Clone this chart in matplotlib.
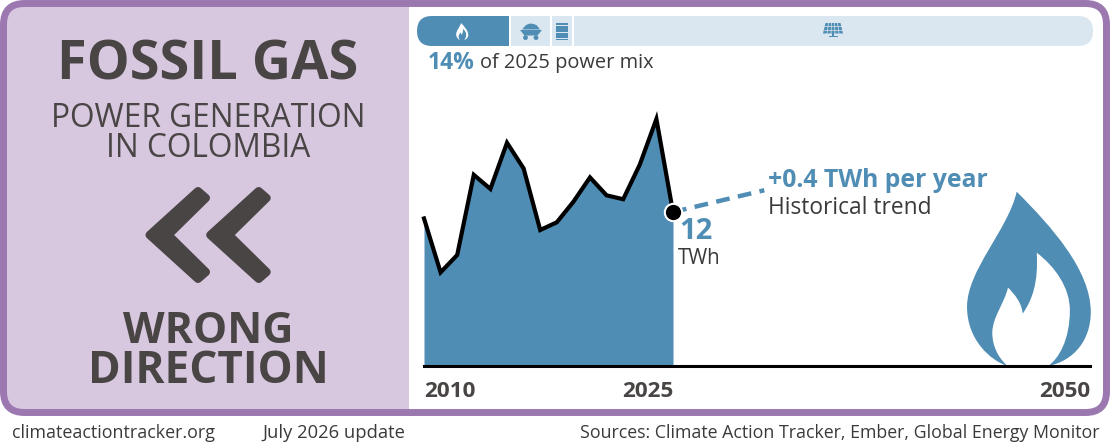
import matplotlib
matplotlib.use("Agg")
import matplotlib.pyplot as plt
from matplotlib.patches import FancyBboxPatch, Rectangle, PathPatch, Circle, Polygon
from matplotlib.path import Path

# ---- data ----
years = [2010, 2011, 2012, 2013, 2014, 2015, 2016, 2017, 2018, 2019, 2020, 2021, 2022, 2023, 2024, 2025]
gas_twh = [11.5, 7.3, 8.65, 14.9, 13.8, 17.4, 15.4, 10.6, 11.2, 12.8, 14.7, 13.3, 13.0, 15.7, 19.25, 12.0]
trend_years = [2025, 2030.5]
trend_twh = [12.0, 13.7]
tick_years = [2010, 2025, 2050]

W, H = 1110, 444
BLUE = "#4f8db5"
PALE = "#dbe7f0"
PURPLE = "#9b78b0"
LILAC = "#d7c8e0"
DARK = "#4a4545"
TXT = "#3a3a3a"
FONT = "Open Sans"

plt.rcParams["font.family"] = [FONT, "DejaVu Sans"]

fig = plt.figure(figsize=(W / 100, H / 100), dpi=100)

# full canvas in pixels, y going down
bg = fig.add_axes([0, 0, 1, 1])
bg.set_xlim(0, W)
bg.set_ylim(H, 0)
bg.axis("off")

# frame
frame = FancyBboxPatch((3.5, 3.5), W - 7, 409, boxstyle="round,pad=0,rounding_size=21",
                       fc="white", ec="none", zorder=1)
bg.add_patch(frame)
left_panel = Rectangle((0, 0), 409, 420, fc=LILAC, ec="none", zorder=2)
bg.add_patch(left_panel)
left_panel.set_clip_path(frame)
frame_edge = FancyBboxPatch((3.5, 3.5), W - 7, 409, boxstyle="round,pad=0,rounding_size=21",
                            fc="none", ec=PURPLE, lw=5, zorder=3)
bg.add_patch(frame_edge)

# left panel text
bg.text(208, 65, "FOSSIL GAS", ha="center", va="center", fontsize=39, fontweight="bold", color=DARK, zorder=4)
bg.text(208, 118, "POWER GENERATION", ha="center", va="center", fontsize=22.8, color=DARK, zorder=4)
bg.text(208, 148.5, "IN COLOMBIA", ha="center", va="center", fontsize=22.8, color=DARK, zorder=4)
bg.text(208, 331, "WRONG", ha="center", va="center", fontsize=31, fontweight="bold", color=DARK, zorder=4)
bg.text(208.5, 371, "DIRECTION", ha="center", va="center", fontsize=31.8, fontweight="bold", color=DARK, zorder=4)

# double chevron
for dx in [0, 60.7]:
    pts = [(149.5, 235), (198, 191), (206, 198), (168.4, 235), (206, 272), (198, 279)]
    bg.add_patch(Polygon([(x + dx, y) for x, y in pts], closed=True, fc=DARK, ec=DARK, lw=5.8,
                         joinstyle="round", zorder=4))

# footer
bg.text(12, 433, "climateactiontracker.org", ha="left", va="center", fontsize=12.9, color=TXT)
bg.text(262, 433, "July 2026 update", ha="left", va="center", fontsize=13.2, color=TXT)
bg.text(1099, 433, "Sources: Climate Action Tracker, Ember, Global Energy Monitor", ha="right", va="center",
        fontsize=12.8, color=TXT)

# power mix bar
bar_x, bar_y, bar_w, bar_h = 417, 16, 676, 30
pill = FancyBboxPatch((bar_x, bar_y), bar_w, bar_h, boxstyle="round,pad=0,rounding_size=15",
                      fc="white", ec="none", zorder=2)
bg.add_patch(pill)
cols = [BLUE, PALE, PALE, PALE]
edges = [417, 510.7, 552.3, 574.3, 1095]
for i in range(4):
    seg = Rectangle((edges[i], bar_y), edges[i + 1] - edges[i] - 2, bar_h, fc=cols[i], ec="none", zorder=3)
    bg.add_patch(seg)
    seg.set_clip_path(pill)

# flame outline, unit = flame height, origin at the base under the tip
FLAME = [(0, 1),
         (-.05, .78), (-.285, .55), (-.285, .34),
         (-.285, .15), (-.15, .03), (-.052, 0),
         (-.11, .05), (-.14, .12), (-.14, .19),
         (-.14, .28), (-.07, .36), (-.05, .45),
         (-.01, .41), (.03, .36), (.034, .30),
         (.09, .38), (.125, .48), (.115, .65),
         (.22, .57), (.305, .45), (.305, .32),
         (.305, .15), (.24, .04), (.18, 0),
         (.33, .03), (.425, .15), (.425, .31),
         (.425, .55), (.2, .8), (0, 1)]


def flame(cx, base, size, color):
    verts = [(cx + u * size, base - v * size) for u, v in FLAME]
    codes = [Path.MOVETO] + [Path.CURVE4] * (len(verts) - 1)
    bg.add_patch(PathPatch(Path(verts, codes), fc=color, ec="none", zorder=5))


flame(1016.7, 366, 174.3, BLUE)
flame(461, 40, 17, "white")

# little coal cart
bg.add_patch(Polygon([(520, 30), (542, 30), (537.5, 35.5), (524.5, 35.5)], fc=BLUE, ec="none", zorder=5))
bg.add_patch(Polygon([(522, 29.5), (526, 25), (530, 23.5), (534, 24), (537, 25.5), (540, 29.5)],
                     fc=BLUE, ec="none", zorder=5))
bg.add_patch(Circle((525.5, 37.6), 2.4, fc=BLUE, ec="none", zorder=5))
bg.add_patch(Circle((536, 37.6), 2.4, fc=BLUE, ec="none", zorder=5))

# oil barrel
for yy, hh in [(23, 2.2), (26.4, 5.4), (32.6, 5.4), (38.6, 1.8)]:
    bg.add_patch(Rectangle((556, yy), 12.4, hh, fc=BLUE, ec="none", zorder=5))

# solar panel
bg.add_patch(Polygon([(825.5, 23), (840.5, 23), (843, 33.5), (823, 33.5)], fc=BLUE, ec="none", zorder=5))
for t in [0.2, 0.4, 0.6, 0.8]:
    bg.plot([825.5 + 15 * t, 823 + 20 * t], [23, 33.5], color=PALE, lw=0.5, zorder=6)
for yy in [26.5, 30]:
    bg.plot([823.5, 842.5], [yy, yy], color=PALE, lw=0.5, zorder=6)
bg.add_patch(Rectangle((832, 33.5), 2, 3, fc=BLUE, ec="none", zorder=5))
bg.add_patch(Rectangle((828.5, 36), 9, 1.5, fc=BLUE, ec="none", zorder=5))

# mix label
bg.text(428, 63, "14%", ha="left", va="center", fontsize=16.5, fontweight="bold", color=BLUE)
bg.text(480, 63, "of 2025 power mix", ha="left", va="center", fontsize=14.4, color=TXT)

# main chart, aligned to the pixels of the reference
px_per_twh = 12.83
ax_l, ax_r, ax_b, ax_t = 424, 1088, 366, 100
ax = fig.add_axes([ax_l / W, 1 - ax_b / H, (ax_r - ax_l) / W, (ax_b - ax_t) / H], zorder=5)
ax.patch.set_alpha(0)
ax.set_xlim(2010, 2050)
ax.set_ylim(0, (ax_b - ax_t) / px_per_twh)
for s in ax.spines.values():
    s.set_visible(False)
ax.set_yticks([])
ax.set_xticks(tick_years)
ax.set_xticklabels([])
ax.tick_params(length=0)

ax.fill_between(years, gas_twh, 0, color=BLUE, lw=0, zorder=1)
ax.plot(years, gas_twh, color="black", lw=3, solid_joinstyle="miter", clip_on=False, zorder=2)
ax.plot(trend_years, trend_twh, color=BLUE, lw=3.2, dashes=(3.1, 1.9), zorder=2)
ax.plot([years[-1]], [gas_twh[-1]], "o", ms=12.5, mfc="black", mec="white", mew=1.5, zorder=4)
ax.plot([2010, 2050.1], [0, 0], color="black", lw=2.2, clip_on=False, zorder=3)

bg.text(424, 391, str(tick_years[0]), ha="left", va="center", fontsize=16.2, fontweight="bold", color=DARK)
bg.text(648, 391, str(tick_years[1]), ha="center", va="center", fontsize=16.2, fontweight="bold", color=DARK)
bg.text(1090, 391, str(tick_years[2]), ha="right", va="center", fontsize=16.2, fontweight="bold", color=DARK)

bg.text(679, 231, "12", ha="left", va="center", fontsize=21, fontweight="bold", color=BLUE)
bg.text(678, 258, "TWh", ha="left", va="center", fontsize=14.8, color=TXT)
bg.text(768, 180, "+0.4 TWh per year", ha="left", va="center", fontsize=17.8, fontweight="bold", color=BLUE)
bg.text(768, 208, "Historical trend", ha="left", va="center", fontsize=16.4, color=TXT)

fig.savefig("out.png", dpi=100)
